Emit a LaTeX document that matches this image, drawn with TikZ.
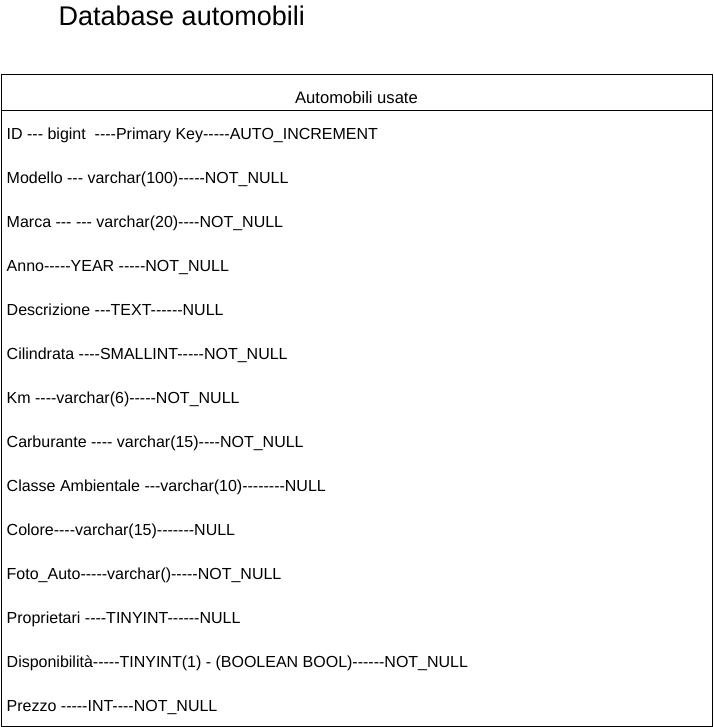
\documentclass[tikz,border=0pt]{standalone}
\usepackage{fontspec}
\setmainfont{Liberation Sans}[Ligatures=TeXOff]
\begin{document}
\begin{tikzpicture}[x=1pt,y=-1pt,
  frame/.style={draw=black, line width=1.3pt, inner sep=0pt, anchor=north west},
  field/.style={anchor=base west, inner sep=0pt, font=\fontsize{16}{19}\selectfont},
  caption/.style={anchor=base, inner sep=0pt, font=\fontsize{16.6}{19}\selectfont},
  heading/.style={anchor=base west, inner sep=0pt, font=\fontsize{27}{31}\selectfont}]
\useasboundingbox[fill=white] (0,0) rectangle (713,727);

% title
\node[heading] (title) at (58.5,26) {Database automobili};

% table outline and header band
\node[frame, minimum width=711pt, minimum height=652pt] (table) at (1,74) {};
\node[frame, minimum width=711pt, minimum height=36pt] (header) at (1,74) {};
\node[caption] (headtext) at (356.5,103.3) {Automobili usate};

% columns of the table
\foreach \txt [count=\i from 0] in {
  {ID --- bigint\ \ ----Primary Key-----AUTO\_INCREMENT},
  {Modello --- varchar(100)-----NOT\_NULL},
  {Marca --- --- varchar(20)----NOT\_NULL},
  {Anno-----YEAR -----NOT\_NULL},
  {Descrizione ---TEXT------NULL},
  {Cilindrata ----SMALLINT-----NOT\_NULL},
  {Km ----varchar(6)-----NOT\_NULL},
  {Carburante ---- varchar(15)----NOT\_NULL},
  {Classe Ambientale ---varchar(10)--------NULL},
  {Colore----varchar(15)-------NULL},
  {Foto\_Auto-----varchar()-----NOT\_NULL},
  {Proprietari ----TINYINT------NULL},
  {Disponibilità-----TINYINT(1) - (BOOLEAN BOOL)------NOT\_NULL},
  {Prezzo -----INT----NOT\_NULL}}
  \node[field] (row\i) at (6.5,139.7+44*\i) {\txt};
\end{tikzpicture}
\end{document}
